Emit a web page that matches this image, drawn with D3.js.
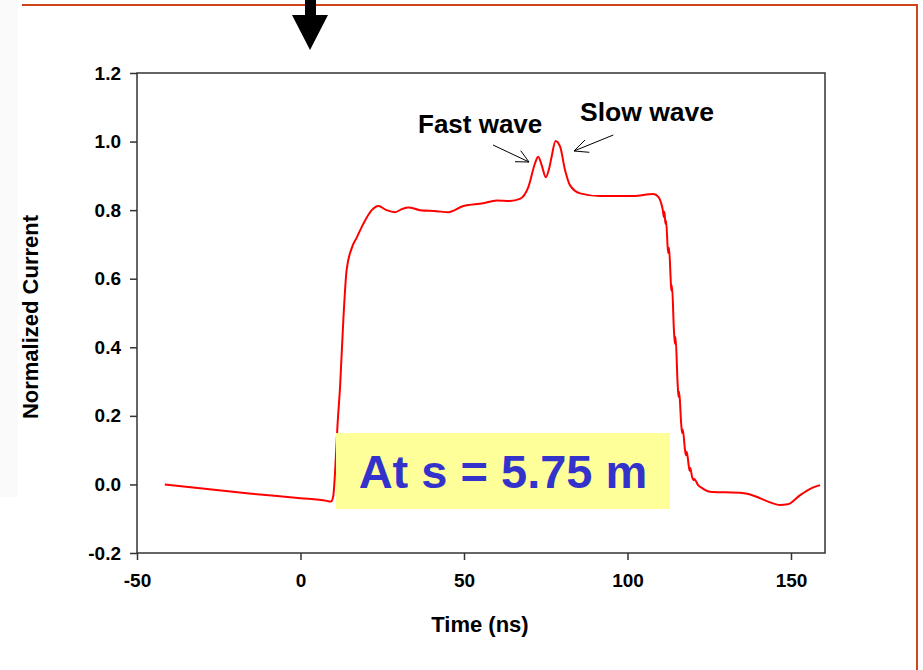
<!DOCTYPE html>
<html>
<head>
<meta charset="utf-8">
<script src="https://cdn.jsdelivr.net/npm/d3@7"></script>
<style>
  body { margin: 0; background: #fff; }
  svg { display: block; font-family: Arial, "Liberation Sans", Helvetica, sans-serif; }
</style>
</head>
<body>
<svg width="923" height="670"></svg>
<script>
// beam current trace
var time = [-41.5, -30, -15, 0, 8, 9.3, 10, 10.6, 11.3, 12.1, 13.1, 14.1, 15.7, 17.2, 19.2, 21.8, 23.8, 26.3, 28.9,
  31, 33, 36.5, 41.6, 45.2, 49.8, 55.9, 60, 64, 67.1, 69.7, 71.7, 72.7, 73.8, 75, 76, 76.8, 78, 79.4, 80.9,
  82.4, 85.5, 91.6, 101.8, 107.9,
  109.5, 110.3, 110.8, 111.1, 111.3, 111.6, 111.8, 112.3, 112.5, 112.7, 113.2, 113.4, 113.6, 114.2, 114.5, 114.7,
  115.3, 115.6, 115.8, 116.4, 116.7, 116.9, 117.6, 117.9, 118.1, 118.8, 119.0, 119.2, 119.8, 120.2, 120.4,
  121.6, 123, 125.2, 130, 134.4, 137, 139.5, 143, 146.6, 149, 152.8, 156, 158.9];
var current = [0.0, -0.012, -0.027, -0.04, -0.048, -0.05, -0.035, 0.04, 0.17, 0.285, 0.48, 0.625, 0.69, 0.72, 0.76, 0.80, 0.812, 0.80, 0.794,
  0.803, 0.808, 0.80, 0.797, 0.794, 0.812, 0.82, 0.828, 0.827, 0.833, 0.868, 0.936, 0.956, 0.93, 0.896, 0.92, 0.956, 1.002, 0.985, 0.917,
  0.873, 0.849, 0.841, 0.841, 0.847,
  0.838, 0.82, 0.80, 0.78, 0.795, 0.76, 0.77, 0.69, 0.675, 0.69, 0.60, 0.565, 0.58, 0.45, 0.41, 0.43,
  0.30, 0.255, 0.27, 0.18, 0.15, 0.16, 0.10, 0.085, 0.095, 0.05, 0.04, 0.048, 0.02, 0.012, 0.016,
  -0.002, -0.012, -0.021, -0.023, -0.024, -0.028, -0.036, -0.05, -0.06, -0.058, -0.031, -0.012, -0.002];

var xTicks = [-50, 0, 50, 100, 150];
var yTicks = [-0.2, 0.0, 0.2, 0.4, 0.6, 0.8, 1.0, 1.2];

var svg = d3.select("svg");
var pLeft = 137, pRight = 825, pTop = 73, pBottom = 553;

var x = d3.scaleLinear().domain([-50, 160.4]).range([pLeft, pRight]);
var y = d3.scaleLinear().domain([-0.2, 1.2]).range([pBottom, pTop]);

// plain hyphen for negatives, like the original
function hyph(f) { return function(d) { return f(d).replace("\u2212", "-"); }; }

// slide decoration: faint grey strip on the left, orange frame, big arrow
svg.append("rect").attr("x", 0).attr("y", 0).attr("width", 18).attr("height", 497).attr("fill", "#fafafa");
svg.append("path")
  .attr("d", "M22,5 H917 V670")
  .attr("fill", "none").attr("stroke", "#cf4517").attr("stroke-width", 2);
svg.append("path")
  .attr("d", "M305,0 H316 V15 H328 L310,50 L292,15 H305 Z")
  .attr("fill", "#000");

// frame
svg.append("rect")
  .attr("x", pLeft).attr("y", pTop)
  .attr("width", pRight - pLeft).attr("height", pBottom - pTop)
  .attr("fill", "none").attr("stroke", "#333").attr("stroke-width", 1.5);

var xAxis = svg.append("g")
  .attr("transform", "translate(0," + pBottom + ")")
  .call(d3.axisBottom(x).tickValues(xTicks).tickSize(7).tickPadding(14).tickFormat(hyph(d3.format("d"))));
var yAxis = svg.append("g")
  .attr("transform", "translate(" + pLeft + ",0)")
  .call(d3.axisLeft(y).tickValues(yTicks).tickSize(7).tickPadding(9).tickFormat(hyph(d3.format(".1f"))));

[xAxis, yAxis].forEach(function(a) {
  a.select(".domain").remove();
  a.selectAll(".tick line").attr("stroke", "#333").attr("stroke-width", 1.5);
  a.selectAll(".tick text")
    .attr("fill", "#000")
    .style("font-size", "19px")
    .style("font-weight", "bold")
    .style("font-family", "Arial, 'Liberation Sans', sans-serif");
});

svg.append("text")
  .attr("x", (pLeft + pRight) / 2 - 1).attr("y", 632)
  .attr("text-anchor", "middle")
  .style("font-size", "22px").style("font-weight", "bold")
  .text("Time (ns)");

svg.append("text")
  .attr("transform", "translate(38,317) rotate(-90)")
  .attr("text-anchor", "middle")
  .style("font-size", "22px").style("font-weight", "bold")
  .text("Normalized Current");

// the trace
var pts = d3.zip(time, current);
var line = d3.line()
  .x(function(d) { return x(d[0]); })
  .y(function(d) { return y(d[1]); })
  .curve(d3.curveMonotoneX);

svg.append("path")
  .datum(pts)
  .attr("d", line)
  .attr("fill", "none")
  .attr("stroke", "#ff0000")
  .attr("stroke-width", 2);

// yellow label box
svg.append("rect")
  .attr("x", 336).attr("y", 433).attr("width", 334).attr("height", 76)
  .attr("fill", "#ffff99");
svg.append("text")
  .attr("x", 503).attr("y", 488)
  .attr("text-anchor", "middle")
  .attr("fill", "#3333cc")
  .style("font-size", "47px").style("font-weight", "bold")
  .text("At s = 5.75 m");

// annotations
svg.append("text")
  .attr("x", 418).attr("y", 133)
  .style("font-size", "26px").style("font-weight", "bold")
  .text("Fast wave");
svg.append("text")
  .attr("x", 580).attr("y", 121)
  .style("font-size", "26.5px").style("font-weight", "bold")
  .text("Slow wave");

var arrows = [
  [[493, 145], [529, 162], [520.7, 150.7], [515, 161.7]],
  [[613.3, 135], [574, 151], [585, 140], [589.3, 152.3]]
];
arrows.forEach(function(a) {
  svg.append("path")
    .attr("d", "M" + a[0] + " L" + a[1] + " M" + a[2] + " L" + a[1] + " L" + a[3])
    .attr("fill", "none").attr("stroke", "#000").attr("stroke-width", 1);
});
</script>
</body>
</html>
